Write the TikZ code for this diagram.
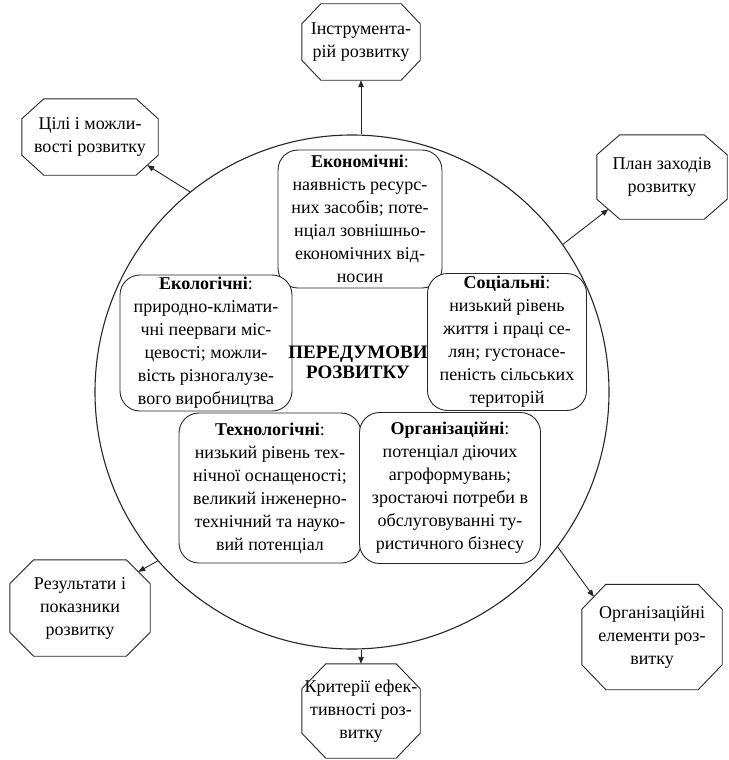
\documentclass[tikz,border=0pt]{standalone}
\usepackage{fontspec}
\setmainfont{Liberation Serif}
\usetikzlibrary{calc,arrows.meta}
\newcommand\octpath[3]{%
  \draw[octline] ([xshift=#2]#1.north west) -- ([xshift=-#2]#1.north east)
    -- ([yshift=-#3]#1.north east) -- ([yshift=#3]#1.south east)
    -- ([xshift=-#2]#1.south east) -- ([xshift=#2]#1.south west)
    -- ([yshift=#3]#1.south west) -- ([yshift=-#3]#1.north west) -- cycle;}
\begin{document}
\begin{tikzpicture}[x=1pt,y=-1pt,
  every node/.style={font=\fontsize{18}{23}\selectfont},
  octa/.style={rectangle, align=center, inner sep=0pt},
  octline/.style={draw=black!85, line width=0.9pt, line join=miter},
  rbox/.style={rectangle, rounded corners=20pt, draw=black!85, line width=0.9pt, fill=white,
    align=center, inner sep=0pt},
  arr/.style={draw=black!85, line width=0.9pt, -{Triangle[length=7pt,width=5.5pt]}}]
\useasboundingbox (0,0) rectangle (728,760);
% big circle
\node[circle, draw=black!85, line width=1.1pt, minimum size=514pt, inner sep=0pt] (c) at (352,392) {};
% inner boxes
\node[rbox, minimum width=164pt, minimum height=138pt] (eco) at (360,219)
  {\textbf{Економічні}:\\наявність ресурс-\\них засобів; поте-\\нціал зовнішньо-\\економічних від-\\носин};
\node[rbox, minimum width=172pt, minimum height=136pt] (ecol) at (206,343)
  {\textbf{Екологічні}:\\природно-клімати-\\чні пеерваги міс-\\цевості; можли-\\вість різногалузе-\\вого виробництва};
\node[rbox, minimum width=159pt, minimum height=137pt] (soc) at (507,342)
  {\textbf{Соціальні}:\\низький рівень\\життя і праці се-\\лян; густонасе-\\пеність сільських\\територій};
\node[rbox, minimum width=182pt, minimum height=150pt] (tech) at (270,488)
  {\textbf{Технологічні}:\\низький рівень тех-\\нічної оснащеності;\\великий інженерно-\\технічний та науко-\\вий потенціал};
\node[rbox, minimum width=181pt, minimum height=151pt] (org) at (450,488)
  {\textbf{Організаційні}:\\потенціал діючих\\агроформувань;\\зростаючі потреби в\\обслуговуванні ту-\\ристичного бізнесу};
\node[align=center, font=\fontsize{19}{20}\selectfont\bfseries] (pre) at (358,362) {ПЕРЕДУМОВИ\\РОЗВИТКУ};
% outer octagons
\node[octa, minimum width=118pt, minimum height=76pt] (instr) at (361,42) {Інструмента-\\рій розвитку};
\octpath{instr}{19pt}{20pt}
\node[octa, minimum width=136pt, minimum height=76pt] (ciel) at (90,137) {Цілі і можли-\\вості розвитку};
\octpath{ciel}{22pt}{20pt}
\node[octa, minimum width=130pt, minimum height=84pt] (plan) at (662,177) {План заходів\\розвитку};
\octpath{plan}{23pt}{20pt}
\node[octa, minimum width=140pt, minimum height=96pt] (res) at (80,608) {Результати і\\показники\\розвитку};
\octpath{res}{24pt}{24pt}
\node[octa, minimum width=140pt, minimum height=105pt] (orgel) at (652,637) {Організаційні\\елементи роз-\\витку};
\octpath{orgel}{24pt}{25pt}
\node[octa, minimum width=118pt, minimum height=94pt] (crit) at (361,711) {Критерії ефек-\\тивності роз-\\витку};
\octpath{crit}{24pt}{25pt}
% arrow end points on the chamfers
\coordinate (cielP) at ($(ciel.south east)+(-11,-10)$);
\coordinate (planP) at ($(plan.south west)+(11.5,-10)$);
\coordinate (resP) at ($(res.north east)+(-12,12)$);
\coordinate (orgelP) at ($(orgel.north west)+(12,12.5)$);
\coordinate (ctop) at (c.north -| instr.south);
\coordinate (cbot) at (c.south -| crit.north);
% arrows
\draw[arr] (ctop) -- (instr.south);
\draw[arr] (cbot) -- (crit.north);
\draw[arr] (c.129) -- (cielP);
\draw[arr] (c.35) -- (planP);
\draw[arr] (c.221) -- (resP);
\draw[arr] (c.323) -- (orgelP);
\end{tikzpicture}
\end{document}
